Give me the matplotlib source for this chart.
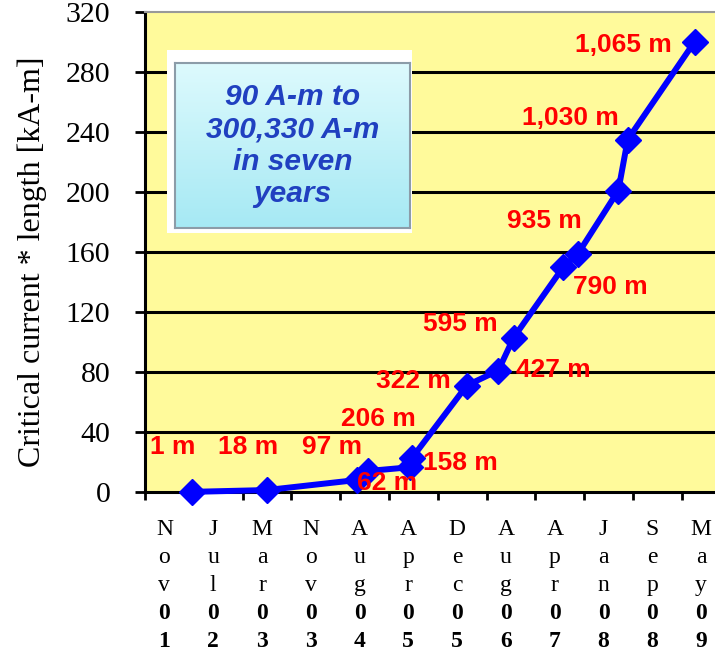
import matplotlib
matplotlib.use('Agg')
import matplotlib.pyplot as plt
from matplotlib.patches import Rectangle
from matplotlib.colors import LinearSegmentedColormap
import numpy as np

plt.rcParams['font.family'] = ['Liberation Serif', 'DejaVu Serif']

# critical current * length (kA-m) against date (decimal year)
dates = [2001.83, 2002.95, 2004.29, 2004.46, 2005.08, 2005.11, 2005.93,
         2006.40, 2006.63, 2007.37, 2007.59, 2008.19, 2008.33, 2009.33]
values = [0.09, 1.3, 8, 14, 16.5, 22.5, 71, 81, 103, 150, 159, 201, 235, 300.33]

# piece lengths written next to the curve
len_labels = ["1 m", "18 m", "97 m", "62 m", "206 m", "158 m", "322 m",
              "427 m", "595 m", "790 m", "935 m", "1,030 m", "1,065 m"]
len_x = [2001.55, 2002.67, 2003.92, 2004.74, 2004.61, 2005.84, 2005.13,
         2007.22, 2005.83, 2008.07, 2007.08, 2007.48, 2008.27]
len_y = [30, 30, 30, 6, 48.7, 19.3, 74, 81.3, 112, 136.7, 180.7, 249.3, 298]

month_labels = ["Nov", "Jul", "Mar", "Nov", "Aug", "Apr",
                "Dec", "Aug", "Apr", "Jan", "Sep", "May"]
year_labels = ["01", "02", "03", "03", "04", "05",
               "05", "06", "07", "08", "08", "09"]

y_ticks = [0, 40, 80, 120, 160, 200, 240, 280, 320]
x_range = (2001.132, 2009.864)

fig = plt.figure(figsize=(7.15, 6.53), dpi=100)
ax = fig.add_axes([145 / 715, 161 / 653, 585.6 / 715, 480 / 653])
ax.set_facecolor('#FFFA9B')

ax.set_xlim(*x_range)
ax.set_ylim(y_ticks[0], y_ticks[-1])

for y in y_ticks[1:-1]:
    ax.axhline(y, color='black', lw=2.2, zorder=1)

ax.plot(dates, values, color='#0000FF', lw=4.3, marker='D', ms=13,
        zorder=3, clip_on=False)

for txt, x, y in zip(len_labels, len_x, len_y):
    ax.text(x, y, txt, color='#FF0000', fontsize=19, fontweight='bold',
            family=['Liberation Sans', 'DejaVu Sans'],
            ha='center', va='center', zorder=4)

# axes styling
for side in ['left', 'bottom']:
    ax.spines[side].set_color('black')
    ax.spines[side].set_linewidth(2.2)
ax.spines['top'].set_color('#999999')
ax.spines['top'].set_linewidth(1.5)
ax.spines['right'].set_visible(False)

ax.set_yticks(y_ticks)
ax.tick_params(axis='y', length=7, width=2, pad=18, labelsize=21.5)

x_ticks = np.linspace(x_range[0], x_range[1], len(month_labels) + 1)
ax.set_xticks(x_ticks)
ax.set_xticklabels([])
ax.tick_params(axis='x', length=6, width=2)

# category labels, written one character per line
centers = (x_ticks[:-1] + x_ticks[1:]) / 2 - 0.075
for cx, m, yr in zip(centers, month_labels, year_labels):
    for k, ch in enumerate(m + yr):
        ax.text(cx, -0.078 - k * 0.0585, ch, transform=ax.get_xaxis_transform(),
                ha='center', va='center', fontsize=17,
                fontweight='bold' if k >= 3 else 'normal')

ax.set_ylabel('Critical current * length [kA-m]', fontsize=23)
ax.yaxis.set_label_coords(-0.168, 0.479)

# note box
fig.patches.append(Rectangle((167 / 715, 1 - 233 / 653), 245 / 715, 183 / 653,
                             transform=fig.transFigure, facecolor='white',
                             edgecolor='none', zorder=1))
bax = fig.add_axes([175 / 715, 1 - 228 / 653, 235 / 715, 165 / 653], zorder=2)
grad = LinearSegmentedColormap.from_list('box', ['#DDFAFD', '#A6E9F4'])
bax.imshow(np.linspace(0, 1, 100).reshape(-1, 1), cmap=grad, aspect='auto',
           extent=[0, 1, 0, 1])
bax.set_xticks([])
bax.set_yticks([])
for s in bax.spines.values():
    s.set_color('#8C9CA8')
    s.set_linewidth(1.5)
bax.text(0.5, 0.5, '90 A-m to\n300,330 A-m\nin seven\nyears',
         transform=bax.transAxes, ha='center', va='center', color='#2040C0',
         fontsize=21.5, fontweight='bold', fontstyle='italic',
         family=['Liberation Sans', 'DejaVu Sans'], linespacing=1.2)

fig.savefig('out.png', dpi=100)
